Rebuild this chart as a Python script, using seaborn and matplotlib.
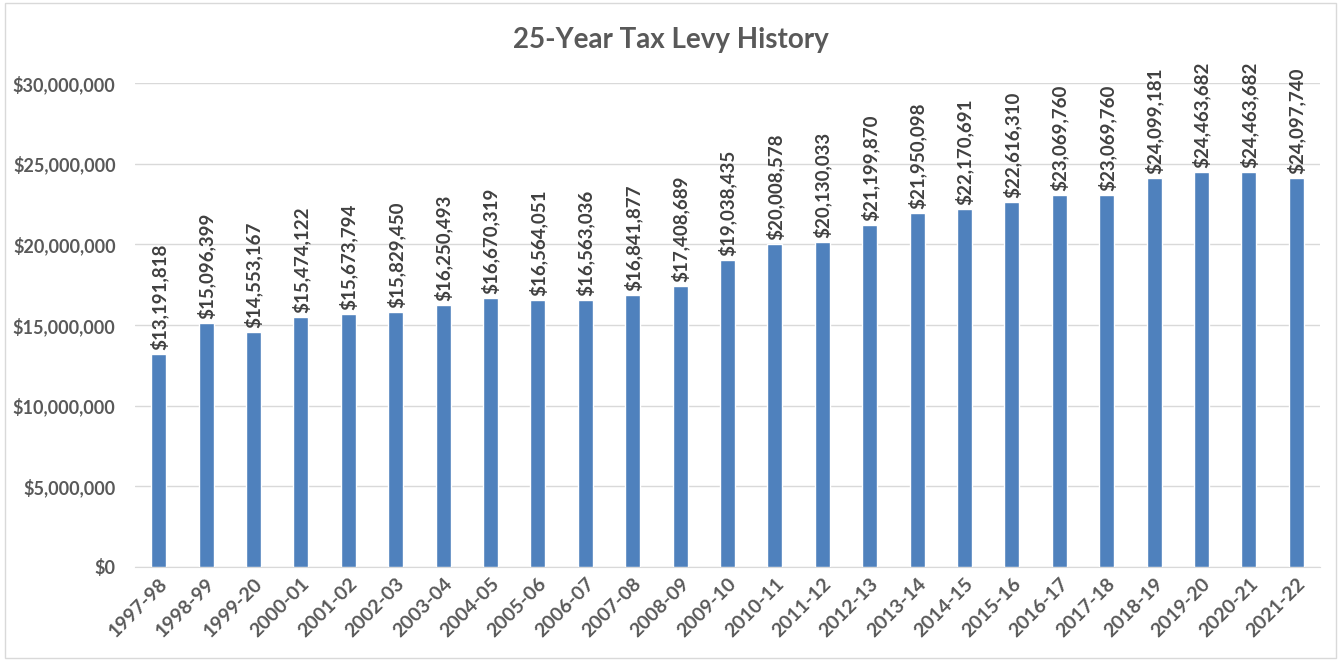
import matplotlib.pyplot as plt
import seaborn as sns
import pandas as pd

years = ["1997-98", "1998-99", "1999-20", "2000-01", "2001-02", "2002-03", "2003-04",
         "2004-05", "2005-06", "2006-07", "2007-08", "2008-09", "2009-10", "2010-11",
         "2011-12", "2012-13", "2013-14", "2014-15", "2015-16", "2016-17", "2017-18",
         "2018-19", "2019-20", "2020-21", "2021-22"]
levy = [13191818, 15096399, 14553167, 15474122, 15673794, 15829450, 16250493,
        16670319, 16564051, 16563036, 16841877, 17408689, 19038435, 20008578,
        20130033, 21199870, 21950098, 22170691, 22616310, 23069760, 23069760,
        24099181, 24463682, 24463682, 24097740]
y_ticks = [0, 5000000, 10000000, 15000000, 20000000, 25000000, 30000000]

df = pd.DataFrame({"Year": years, "Levy": levy})

sns.set_style("white")
plt.rcParams['font.family'] = ['Lato', 'DejaVu Sans']
text_color = "#595959"

fig = plt.figure(figsize=(13.41, 6.61), dpi=100)
ax = fig.add_axes([135 / 1341, 94 / 661, 1185 / 1341, 484 / 661])

sns.barplot(data=df, x="Year", y="Levy", color="#4F81BD", width=0.32,
            saturation=1, ax=ax, zorder=3)

ax.set_ylim(0, 30000000)
ax.set_xlim(-0.5, len(years) - 0.5)
ax.set_yticks(y_ticks, labels=[f"${t:,}" for t in y_ticks], fontweight="bold")
ax.set_xticks(range(len(years)), labels=years, fontweight="bold", rotation=45,
              ha="right", rotation_mode="anchor")
ax.grid(axis="y", color="#d9d9d9", linewidth=1, zorder=0)
for s in ["top", "right", "left"]:
    ax.spines[s].set_visible(False)
ax.spines["bottom"].set_color("#d9d9d9")
ax.set_xlabel("")
ax.set_ylabel("")
ax.tick_params(axis="both", length=0, colors=text_color)
ax.tick_params(axis="y", pad=14, labelsize=13)
ax.tick_params(axis="x", pad=6, labelsize=14)

for i, v in enumerate(levy):
    ax.text(i, v + 250000, f"${v:,}", rotation=90, ha="center", va="bottom",
            fontsize=13.5, fontweight="bold", color="#404040")

fig.text(0.5, 1 - 40 / 661, "25-Year Tax Levy History", ha="center", va="center",
         fontsize=20, fontweight="bold", color=text_color)

border = plt.Rectangle((0.004, 0.004), 0.992, 0.992, transform=fig.transFigure,
                       fill=False, edgecolor="#d9d9d9", linewidth=1)
fig.patches.append(border)

fig.savefig("out.png", dpi=100)
